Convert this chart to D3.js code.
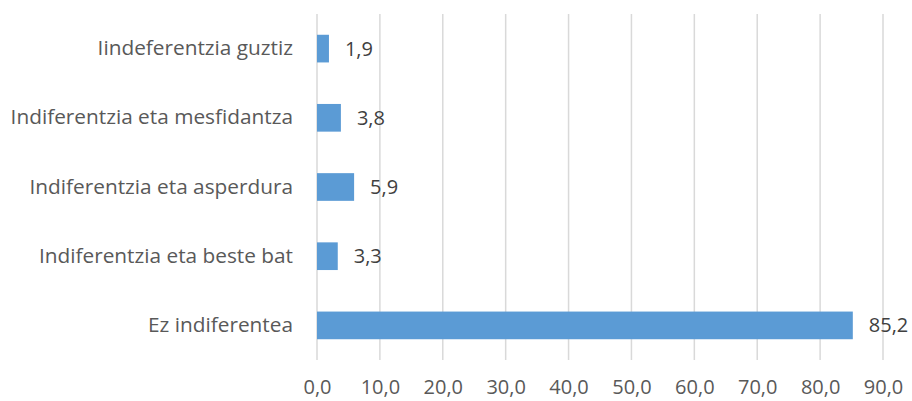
<!DOCTYPE html>
<html>
<head>
<meta charset="utf-8">
<script src="https://cdn.jsdelivr.net/npm/d3@7"></script>
<style>
  body { margin: 0; background: #fff; }
  svg text { font-family: "Open Sans", "Noto Sans", sans-serif; }
</style>
</head>
<body>
<div id="chartContainer"></div>
<script>
const categories = [
    'Iindeferentzia guztiz',
    'Indiferentzia eta mesfidantza',
    'Indiferentzia eta asperdura',
    'Indiferentzia eta beste bat',
    'Ez indiferentea'
];
const values = [1.9, 3.8, 5.9, 3.3, 85.2];
const tickValues = [0, 10, 20, 30, 40, 50, 60, 70, 80, 90];

const svgWidth = 912;
const svgHeight = 401;
const margin = { top: 14, right: 29, bottom: 41, left: 317 };
const chartWidth = svgWidth - margin.left - margin.right;
const chartHeight = svgHeight - margin.top - margin.bottom;

const svg = d3.select('#chartContainer')
    .append('svg')
    .attr('width', svgWidth)
    .attr('height', svgHeight);

const chart = svg.append('g')
    .attr('transform', `translate(${margin.left}, ${margin.top})`);

const xScale = d3.scaleLinear()
    .domain([0, 90])
    .range([0, 566]);

const yScale = d3.scaleBand()
    .domain(categories)
    .range([0, chartHeight])
    .paddingInner(0.6)
    .paddingOuter(0.3);

const fmt = d => d.toFixed(1).replace('.', ',');

// vertical grid lines
chart.selectAll('.grid')
    .data(tickValues)
    .enter()
    .append('line')
    .attr('class', 'grid')
    .attr('x1', d => xScale(d))
    .attr('x2', d => xScale(d))
    .attr('y1', 0)
    .attr('y2', chartHeight)
    .attr('stroke', '#d9d9d9')
    .attr('stroke-width', 1.5);

const data = categories.map((c, i) => ({ label: c, value: values[i] }));

chart.selectAll('.bar')
    .data(data)
    .enter()
    .append('rect')
    .attr('class', 'bar')
    .attr('x', xScale(0))
    .attr('y', d => yScale(d.label))
    .attr('width', d => xScale(d.value) - xScale(0))
    .attr('height', yScale.bandwidth())
    .attr('fill', '#5b9bd5');

chart.selectAll('.value-label')
    .data(data)
    .enter()
    .append('text')
    .attr('class', 'value-label')
    .attr('x', d => xScale(d.value) + 16)
    .attr('y', d => yScale(d.label) + yScale.bandwidth() / 2)
    .attr('dy', '0.35em')
    .attr('fill', '#404040')
    .attr('font-size', 20)
    .text(d => fmt(d.value));

// category axis
const yAxis = d3.axisLeft(yScale).tickSize(0).tickPadding(24);
chart.append('g')
    .attr('class', 'y-axis')
    .call(yAxis)
    .call(g => g.select('.domain').remove())
    .call(g => g.selectAll('text')
        .attr('fill', '#595959')
        .attr('font-size', 20.8)
        .attr('font-family', '"Open Sans", "Noto Sans", sans-serif'));

// value axis
const xAxis = d3.axisBottom(xScale)
    .tickValues(tickValues)
    .tickFormat(fmt)
    .tickSize(0)
    .tickPadding(20);
chart.append('g')
    .attr('class', 'x-axis')
    .attr('transform', `translate(0, ${chartHeight})`)
    .call(xAxis)
    .call(g => g.select('.domain').remove())
    .call(g => g.selectAll('text')
        .attr('fill', '#595959')
        .attr('font-size', 20)
        .attr('font-family', '"Open Sans", "Noto Sans", sans-serif'));
</script>
</body>
</html>
